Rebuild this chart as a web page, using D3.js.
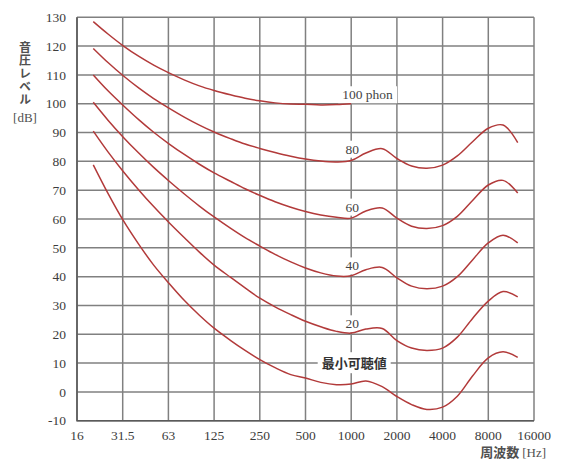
<!DOCTYPE html>
<html>
<head>
<meta charset="UTF-8">
<title>等ラウドネス曲線</title>
<script src="https://cdn.jsdelivr.net/npm/d3@7"></script>
<style>
  body { margin: 0; background: #fff; }
</style>
</head>
<body>
<svg width="561" height="461"></svg>
<script>
// data
var freqs = [20, 25, 31.5, 40, 50, 63, 80, 100, 125, 160, 200, 250, 315, 400, 500, 630, 800,
             1000, 1250, 1600, 2000, 2500, 3150, 4000, 5000, 6300, 8000, 10000, 12500];

var phon100 = [128.5, 124.2, 120.1, 116.4, 113.4, 110.7, 108.2, 106.2, 104.6, 103.1, 101.9, 101.0,
               100.3, 99.9, 99.8, 99.6, 99.7, 100];
var phon80 = [119.2, 114.3, 109.7, 105.4, 101.8, 98.5, 95.3, 92.6, 90.2, 87.9, 86.0, 84.5, 83.1, 81.8,
              80.8, 80.1, 79.8, 80.3, 82.9, 84.4, 81.0, 78.4, 77.6, 78.7, 81.9, 86.8, 91.5, 92.6, 86.5];
var phon60 = [110.0, 104.5, 99.4, 94.4, 90.1, 86.1, 82.3, 79.0, 76.0, 73.1, 70.5, 68.2, 66.0, 64.1,
              62.6, 61.4, 60.6, 60.3, 62.8, 63.8, 60.3, 57.5, 56.7, 57.7, 60.9, 66.4, 71.8, 73.4, 69.0];
var phon40 = [100.5, 94.3, 88.4, 82.8, 77.9, 73.2, 68.6, 64.5, 60.7, 56.8, 53.5, 50.6, 47.7, 45.1,
              43.0, 41.3, 40.2, 40.3, 42.4, 43.2, 39.6, 36.7, 35.8, 36.7, 40.0, 45.8, 51.7, 54.4, 51.7];
var phon20 = [90.5, 83.3, 76.5, 70.0, 64.3, 58.8, 53.4, 48.5, 44.0, 39.8, 36.1, 32.5, 29.5, 26.8,
              24.5, 22.6, 21.0, 20.4, 21.8, 22.0, 17.8, 15.2, 14.4, 15.2, 19.0, 25.5, 31.5, 34.8, 33.0];
var threshold = [78.8, 68.9, 59.5, 51.1, 44.0, 37.7, 31.6, 26.6, 22.1, 17.9, 14.4, 11.2, 8.4, 6.0,
                 4.8, 3.3, 2.5, 2.7, 3.8, 1.8, -1.6, -4.4, -6.1, -5.3, -1.5, 5.5, 11.8, 13.9, 12.0];

var curveLabels = ["100 phon", "80", "60", "40", "20", "最小可聴値"];
// label anchor (freq, dB) on the chart
var labelFreqs = [1000, 1000, 1000, 1000, 1000, 1000];
var labelLevels = [103.2, 84.3, 64.2, 43.8, 23.7, 9.8];

var xTickValues = [15.625, 31.25, 62.5, 125, 250, 500, 1000, 2000, 4000, 8000, 16000];
var xTickLabels = ["16", "31.5", "63", "125", "250", "500", "1000", "2000", "4000", "8000", "16000"];
var yTickValues = [-10, 0, 10, 20, 30, 40, 50, 60, 70, 80, 90, 100, 110, 120, 130];

var margin = {top: 17.3, right: 27, bottom: 40.3, left: 77};
var svg = d3.select("svg");
var width = +svg.attr("width");
var height = +svg.attr("height");

var x = d3.scaleLog().base(2)
    .domain([15.625, 16000])
    .range([margin.left, width - margin.right]);
var y = d3.scaleLinear()
    .domain([-10, 130])
    .range([height - margin.bottom, margin.top]);

var serif = "Liberation Serif, Times New Roman, serif";
var gothic = "Noto Sans CJK JP, sans-serif";

// grid
var grid = svg.append("g").attr("stroke", "#808080").attr("stroke-width", 1.5);
grid.selectAll(".h").data(yTickValues).enter().append("line")
    .attr("x1", x.range()[0]).attr("x2", x.range()[1])
    .attr("y1", function(d) { return y(d); }).attr("y2", function(d) { return y(d); });
grid.selectAll(".v").data(xTickValues).enter().append("line")
    .attr("x1", function(d) { return x(d); }).attr("x2", function(d) { return x(d); })
    .attr("y1", y.range()[0]).attr("y2", y.range()[1]);

// darker left / bottom frame
svg.append("path")
    .attr("d", "M" + x.range()[0] + "," + y.range()[1] + "V" + y.range()[0] + "H" + x.range()[1])
    .attr("fill", "none").attr("stroke", "#5a5a5a").attr("stroke-width", 1.6);

// white boxes behind the curve labels (drawn before the curves)
var boxes = svg.append("g");
var curvesG = svg.append("g");
var labels = svg.append("g");

// tick labels
svg.append("g").selectAll("text").data(yTickValues).enter().append("text")
    .attr("x", 66).attr("y", function(d) { return y(d); }).attr("dy", "0.35em")
    .attr("text-anchor", "end")
    .attr("font-family", serif).attr("font-size", 13.5).attr("fill", "#3c3c3c")
    .text(function(d) { return d; });

svg.append("g").selectAll("text").data(xTickValues).enter().append("text")
    .attr("x", function(d) { return x(d); }).attr("y", 440)
    .attr("text-anchor", "middle")
    .attr("font-family", serif).attr("font-size", 13.5).attr("fill", "#3c3c3c")
    .text(function(d, i) { return xTickLabels[i]; });

// axis titles
svg.append("text")
    .attr("x", 25).attr("y", 41)
    .attr("writing-mode", "vertical-rl")
    .attr("letter-spacing", 1.2)
    .attr("font-family", gothic).attr("font-size", 12).attr("font-weight", "bold")
    .attr("fill", "#505050")
    .text("音圧レベル");
svg.append("text").attr("x", 25).attr("y", 122).attr("text-anchor", "middle")
    .attr("font-family", serif).attr("font-size", 13).attr("fill", "#505050").text("[dB]");

var xt = svg.append("text").attr("x", 546).attr("y", 457).attr("text-anchor", "end")
    .attr("font-size", 13).attr("fill", "#505050");
xt.append("tspan").attr("font-family", gothic).attr("font-weight", "bold").text("周波数 ");
xt.append("tspan").attr("font-family", serif).text("[Hz]");

// curve labels
labels.selectAll("text").data(curveLabels).enter().append("text")
    .attr("x", function(d, i) { return i == 0 ? x(labelFreqs[i]) - 9 : (i == 5 ? x(labelFreqs[i]) + 3 : x(labelFreqs[i]) + 1); })
    .attr("y", function(d, i) { return y(labelLevels[i]); })
    .attr("dy", "0.35em")
    .attr("text-anchor", function(d, i) { return i == 0 ? "start" : "middle"; })
    .attr("font-family", function(d, i) { return i == 5 ? gothic : serif; })
    .attr("font-weight", function(d, i) { return i == 5 ? "bold" : "normal"; })
    .attr("font-size", function(d, i) { return i == 5 ? 13 : 13.5; })
    .attr("fill", function(d, i) { return i == 5 ? "#333" : "#444"; })
    .text(function(d) { return d; })
    .each(function() {
      var b = this.getBBox();
      boxes.append("rect")
        .attr("x", b.x - 4).attr("y", b.y - 1)
        .attr("width", b.width + 8).attr("height", b.height + 2)
        .attr("fill", "#fff");
    });

// curves
var line = d3.line()
    .x(function(d) { return x(d[0]); })
    .y(function(d) { return y(d[1]); })
    .curve(d3.curveCatmullRom.alpha(0.5));

var series = [phon100, phon80, phon60, phon40, phon20, threshold];
curvesG.selectAll("path").data(series).enter().append("path")
    .attr("d", function(s) { return line(s.map(function(v, i) { return [freqs[i], v]; })); })
    .attr("fill", "none")
    .attr("stroke", "#b23a3a")
    .attr("stroke-width", 1.5);
</script>
</body>
</html>
